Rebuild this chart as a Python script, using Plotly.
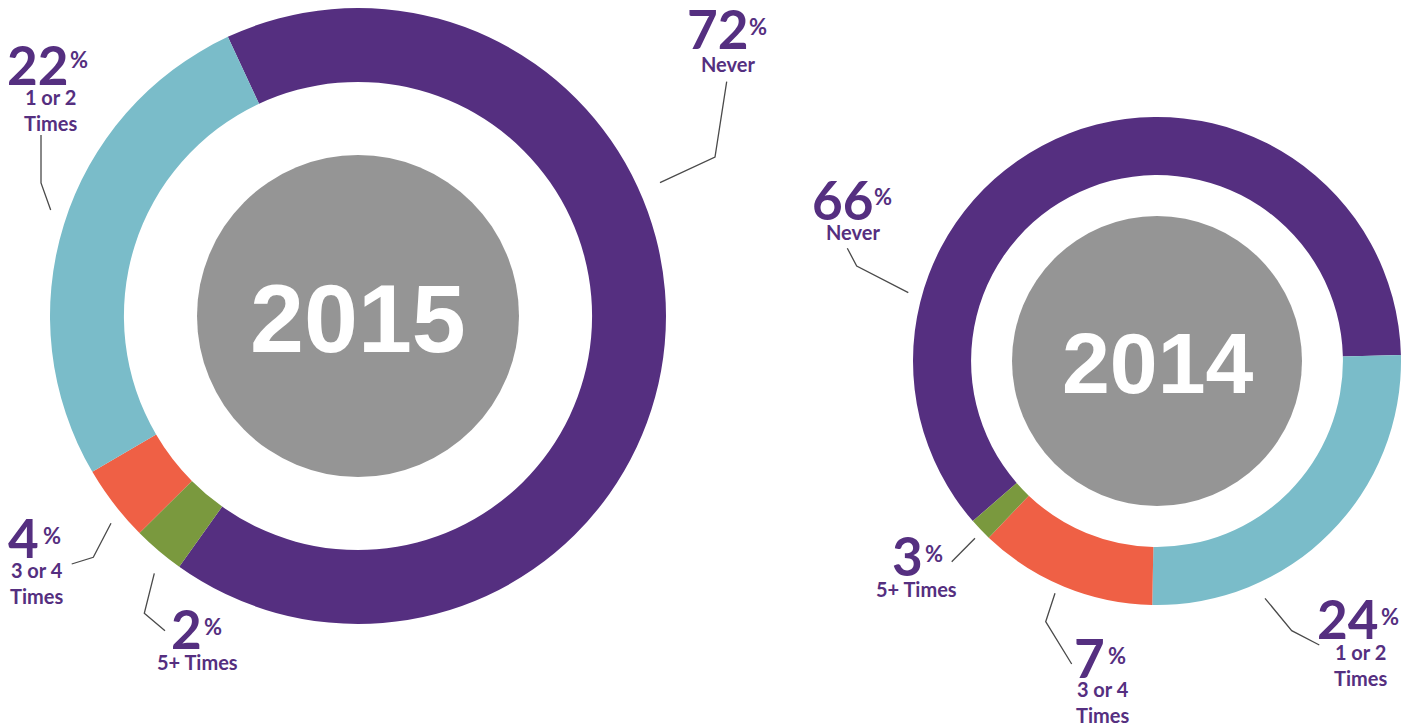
import plotly.graph_objects as go

W, H = 1411, 725

# ---------------- data ----------------
categories = ["Never", "1 or 2 Times", "3 or 4 Times", "5+ Times"]
colors = ["#552F80", "#7ABCC9", "#EF6045", "#7A993E"]

# percentages printed next to each ring
label_2015 = [72, 22, 4, 2]
label_2014 = [66, 24, 7, 3]
# arc shares as drawn on each ring
arc_2015 = [66.8, 26.5, 4.0, 2.7]
arc_2014 = [61.0, 25.7, 11.8, 1.5]

years = ["2015", "2014"]

# ---------------- layout helpers (pixels -> paper) ----------------
def px(x):
    return x / W

def py(y):
    return 1 - y / H

TEXT = "#552F80"
LINE = "#4A4A4A"
FONT = "Lato"

rings = [
    dict(year=years[0], labels=label_2015, arcs=arc_2015, order=[0, 3, 2, 1], rot=-25,
         cx=358, cy=316, R=308, hole=0.760, gr=161, ysize=97),
    dict(year=years[1], labels=label_2014, arcs=arc_2014, order=[0, 1, 2, 3], rot=-131,
         cx=1157, cy=361, R=244, hole=0.762, gr=145, ysize=86),
]

fig = go.Figure()
shapes = []
annotations = []

for r in rings:
    idx = r["order"]
    fig.add_trace(go.Pie(
        labels=[categories[i] for i in idx],
        values=[r["arcs"][i] for i in idx],
        marker=dict(colors=[colors[i] for i in idx], line=dict(width=0)),
        sort=False,
        direction="clockwise",
        rotation=r["rot"],
        hole=r["hole"],
        textinfo="none",
        hoverinfo="skip",
        showlegend=False,
        domain=dict(x=[px(r["cx"] - r["R"]), px(r["cx"] + r["R"])],
                    y=[py(r["cy"] + r["R"]), py(r["cy"] - r["R"])]),
    ))
    shapes.append(dict(type="circle", xref="paper", yref="paper",
                       x0=px(r["cx"] - r["gr"]), x1=px(r["cx"] + r["gr"]),
                       y0=py(r["cy"] + r["gr"]), y1=py(r["cy"] - r["gr"]),
                       fillcolor="#959595", line=dict(width=0), layer="above"))
    annotations.append(dict(text=r["year"], x=px(r["cx"]), y=py(r["cy"] + 2),
                            xref="paper", yref="paper", xanchor="center", yanchor="middle",
                            showarrow=False, borderpad=0, borderwidth=0,
                            font=dict(family="Liberation Sans", size=r["ysize"],
                                      color="white", weight="bold")))

# label placement: (ring index, category index, num right x, num cy, pct left x, pct cy,
#                   category cx, category cy, leader path)
placements = [
    (0, 0, 747.7, 26.3, 749.0, 25.0, 727.5, 63.5, [(726.7, 81.7), (715, 157), (660, 182.7)]),
    (0, 1, 68.3, 62.5, 70.0, 58.0, 50.5, 109.7, [(41, 135), (41, 183), (50.7, 210)]),
    (0, 2, 39.3, 535.8, 43.3, 534.0, 36.0, 582.8, [(111, 523.3), (93.3, 557.3), (71.7, 564)]),
    (0, 3, 201.7, 626.7, 204.3, 625.0, 197.8, 661.7, [(154.3, 573.3), (144.3, 613.3), (165, 630.7)]),
    (1, 0, 872.7, 197.5, 874.0, 195.8, 853.3, 232.5, [(847.3, 248.3), (856.7, 266), (908.3, 292.7)]),
    (1, 1, 1378.3, 616.7, 1380.7, 615.0, 1360.0, 664.7, [(1265, 598.3), (1291.7, 630.7), (1319.3, 645)]),
    (1, 2, 1105.0, 655.3, 1108.3, 654.7, 1102.8, 701.7, [(1055, 593.3), (1045.7, 621.7), (1071.7, 664)]),
    (1, 3, 923.3, 553.3, 925.0, 552.5, 916.7, 588.8, [(951.7, 561.7), (975, 538.3)]),
]

def cat_text(name):
    if name in ("Never", "5+ Times"):
        return name
    head, tail = name.rsplit(" ", 1)
    return head + "<br>" + tail

for ri, ci, nx, ny, qx, qy, cx, cy, path in placements:
    value = rings[ri]["labels"][ci]
    base = dict(xref="paper", yref="paper", showarrow=False, borderpad=0, borderwidth=0)
    annotations.append(dict(base, text=str(value), x=px(nx), y=py(ny + 2),
                            xanchor="right", yanchor="middle",
                            font=dict(family=FONT, size=53, color=TEXT, weight="bold")))
    annotations.append(dict(base, text="%", x=px(qx), y=py(qy + 1),
                            xanchor="left", yanchor="middle",
                            font=dict(family=FONT, size=22, color=TEXT, weight="bold")))
    annotations.append(dict(base, text=cat_text(categories[ci]), x=px(cx), y=py(cy),
                            xanchor="center", yanchor="middle",
                            font=dict(family=FONT, size=20, color=TEXT, weight="bold")))
    d = "M " + " L ".join(f"{px(x):.5f} {py(y):.5f}" for x, y in path)
    shapes.append(dict(type="path", xref="paper", yref="paper", path=d,
                       line=dict(color=LINE, width=1.3)))

fig.update_layout(
    width=W, height=H,
    margin=dict(l=0, r=0, t=0, b=0),
    paper_bgcolor="white", plot_bgcolor="white",
    shapes=shapes, annotations=annotations,
)

fig.write_html("out.html")
